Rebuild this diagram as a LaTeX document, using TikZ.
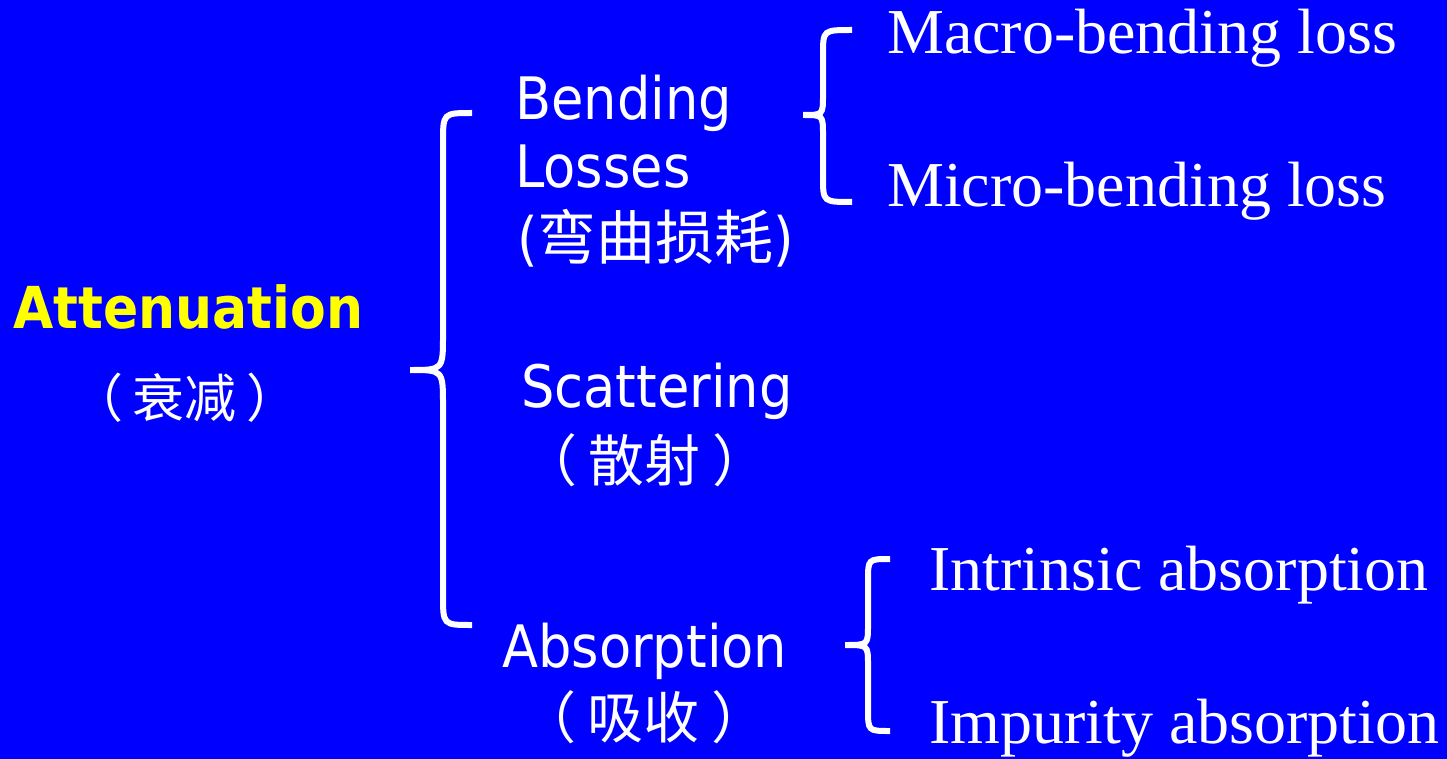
\documentclass[tikz,border=0pt]{standalone}
\usepackage{fontspec}
\setmainfont{Liberation Serif}
\newfontfamily\sansf{DejaVu Sans}[FakeStretch=0.9]
\newfontfamily\cjk{Noto Sans CJK SC}
\definecolor{bgblue}{RGB}{0,0,255}
\definecolor{titleyellow}{RGB}{255,255,0}
% brace: #1 end x, #2 vertical x, #3 tip x, #4 top y, #5 tip y, #6 bottom y, #7 hook radius, #8 tip half-height
\newcommand\drawcurly[8]{%
  \draw[bracestyle] (#1,#4) .. controls (#2,#4) .. ({#2},{#4+#7})
    -- ({#2},{#5-#8}) .. controls (#2,#5) .. (#3,#5)
    .. controls (#2,#5) .. ({#2},{#5+#8})
    -- ({#2},{#6-#7}) .. controls (#2,#6) .. (#1,#6);}
\newcommand\cnparen[2]{（\kern#2pt #1\kern#2pt）}
\begin{document}
\begin{tikzpicture}[x=1pt,y=-1pt,
  bracestyle/.style={draw=white,line width=6pt},
  serifitem/.style={anchor=base west,inner sep=0pt,text=white,font=\fontsize{64}{70}\selectfont},
  sansitem/.style={anchor=base west,inner sep=0pt,text=white,font=\sansf\fontsize{58.5}{66}\selectfont},
  cjkitem/.style={anchor=base,inner sep=0pt,text=white,font=\cjk\fontsize{56}{60}\selectfont}]
\fill[bgblue] (0,0) rectangle (1447,759);
\useasboundingbox (0,0) rectangle (1447,759);
% root
\node[anchor=base west,inner sep=0pt,text=titleyellow,font=\sansf\bfseries\fontsize{57.8}{64}\selectfont] (att) at (13,328) {Attenuation};
\node[cjkitem,font=\cjk\fontsize{52}{56}\selectfont] (attcn) at (185,417) {\cnparen{衰减}{10}};
% main brace
\drawcurly{472}{443}{410}{113}{370}{625}{30}{35}
% bending
\node[sansitem] (bend1) at (515,120) {Bending};
\node[sansitem] (bend2) at (515,188) {Losses};
\node[anchor=base west,inner sep=0pt,text=white] (bendcn) at (517,259) {{\sansf\fontsize{58.5}{66}\selectfont(}{\cjk\fontsize{59}{60}\selectfont 弯曲损耗}{\sansf\fontsize{58.5}{66}\selectfont)}};
% scattering
\node[sansitem] (scat) at (521,407) {Scattering};
\node[cjkitem] (scatcn) at (645,481) {\cnparen{散射}{12}};
% absorption
\node[sansitem] (abs) at (502,667) {Absorption};
\node[cjkitem] (abscn) at (644,738) {\cnparen{吸收}{12}};
% bending sub-brace
\drawcurly{852}{823}{803}{30}{115}{202}{25}{20}
\node[serifitem] (macro) at (887,54) {Macro-bending loss};
\node[serifitem] (micro) at (887,207) {Micro-bending loss};
% absorption sub-brace
\drawcurly{890}{868}{845}{559}{645}{731}{22}{20}
\node[serifitem] (intr) at (929,590) {Intrinsic absorption};
\node[serifitem] (impu) at (929,743) {Impurity absorption};
\end{tikzpicture}
\end{document}
